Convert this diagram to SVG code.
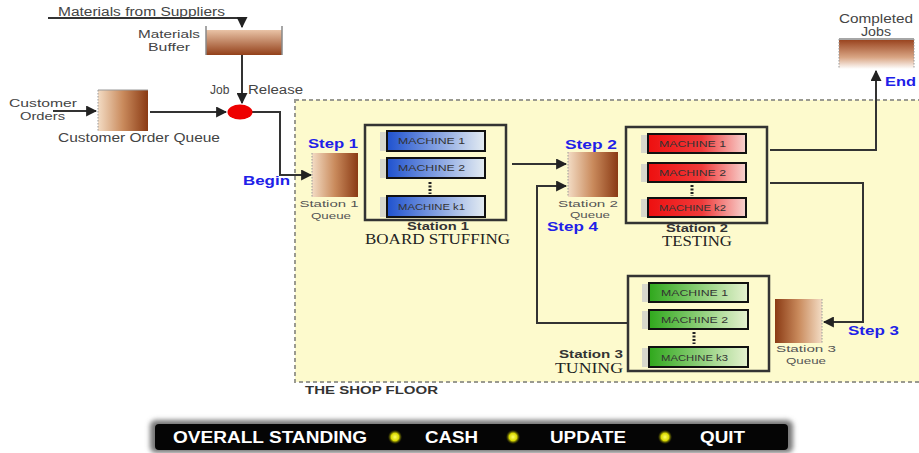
<svg xmlns="http://www.w3.org/2000/svg" width="919" height="453" viewBox="0 0 919 453">
<defs>
<linearGradient id="qLR" x1="0" y1="0" x2="1" y2="0"><stop offset="0" stop-color="#f3dcc4"/><stop offset="0.5" stop-color="#c98a5c"/><stop offset="1" stop-color="#8a3a14"/></linearGradient>
<linearGradient id="qRL" x1="1" y1="0" x2="0" y2="0"><stop offset="0" stop-color="#f3dcc4"/><stop offset="0.5" stop-color="#c98a5c"/><stop offset="1" stop-color="#8a3a14"/></linearGradient>
<linearGradient id="bufV" x1="0" y1="0" x2="0" y2="1"><stop offset="0" stop-color="#e9c3a6"/><stop offset="1" stop-color="#93401a"/></linearGradient>
<linearGradient id="jobV" x1="0" y1="0" x2="0" y2="1"><stop offset="0" stop-color="#9a4520"/><stop offset="0.6" stop-color="#d9a584"/><stop offset="1" stop-color="#ffffff"/></linearGradient>
<linearGradient id="blue" x1="0" y1="0" x2="1" y2="0"><stop offset="0" stop-color="#1f52cf"/><stop offset="1" stop-color="#e4ecf2"/></linearGradient>
<linearGradient id="red" x1="0" y1="0" x2="1" y2="0"><stop offset="0" stop-color="#ee0f0f"/><stop offset="0.55" stop-color="#f03a3a"/><stop offset="1" stop-color="#f7d4d0"/></linearGradient>
<linearGradient id="green" x1="0" y1="0" x2="1" y2="0"><stop offset="0" stop-color="#2fa81c"/><stop offset="1" stop-color="#e6f2d0"/></linearGradient>
<radialGradient id="glow"><stop offset="0" stop-color="#ffff66"/><stop offset="0.55" stop-color="#d8d800"/><stop offset="1" stop-color="#303000" stop-opacity="0.2"/></radialGradient>
<filter id="blur" x="-10%" y="-50%" width="120%" height="200%"><feGaussianBlur stdDeviation="2.5"/></filter>
<marker id="ah" viewBox="0 0 10 10" refX="9" refY="5" markerWidth="5.5" markerHeight="5.5" orient="auto"><path d="M0,0 L10,5 L0,10 z" fill="#222"/></marker>
<style>
.t{font-family:"Liberation Sans",Arial,sans-serif;fill:#444;font-size:12px}
.t2{font-family:"Liberation Sans",Arial,sans-serif;fill:#444;font-size:11px}
.s{font-family:"Liberation Sans",Arial,sans-serif;fill:#555;font-size:9.5px}
.b{font-family:"Liberation Sans",Arial,sans-serif;font-weight:bold;fill:#333;font-size:11px}
.step{font-family:"Liberation Sans",Arial,sans-serif;font-weight:bold;fill:#2020e8;font-size:12px}
.serif{font-family:"Liberation Serif","Times New Roman",serif;fill:#222;font-size:14px}
.mlab{font-family:"Liberation Sans",Arial,sans-serif;fill:#333;font-size:9px}
.arr{fill:none;stroke:#333;stroke-width:2;marker-end:url(#ah)}
.stbox{fill:none;stroke:#333;stroke-width:2.5}
.mbox{stroke:#111;stroke-width:2}
.shadow{fill:#d8d8cc}
.dots{stroke:#222;stroke-width:3;stroke-dasharray:2 1.5}
.qside{stroke:#999;stroke-width:1;stroke-dasharray:1.5 1.5}
.btn{font-family:"Liberation Sans",Arial,sans-serif;font-weight:bold;fill:#fff;font-size:16px}
</style>
</defs>
<rect width="919" height="453" fill="#ffffff"/>

<g id="shop-floor">
<rect x="295" y="100" width="640" height="282" fill="#fdfacd" stroke="#9a9a90" stroke-width="2" stroke-dasharray="4 3"/>
<text class="b" x="305" y="394" font-size="12" textLength="133" lengthAdjust="spacingAndGlyphs">THE SHOP FLOOR</text>
</g>

<g id="connectors">
<polyline class="arr" points="48,18 242,18 242,27"/>
<line class="arr" x1="242" y1="55" x2="242" y2="103"/>
<line class="arr" x1="53" y1="111" x2="96" y2="111"/>
<line class="arr" x1="150" y1="112" x2="226" y2="112"/>
<polyline class="arr" points="252,112 280,112 280,175 311,175"/>
<line class="arr" x1="512" y1="164" x2="566" y2="164"/>
<polyline class="arr" points="628,323 537,323 537,186 566,186"/>
<polyline class="arr" points="770,150 876,150 876,71"/>
<polyline class="arr" points="770,183 863,183 863,322 824,322"/>
</g>

<g id="materials-from-suppliers">
<text class="t" x="58" y="16" textLength="167" lengthAdjust="spacingAndGlyphs">Materials from Suppliers</text>
</g>

<g id="materials-buffer">
<rect x="206" y="30" width="76" height="25" fill="url(#bufV)"/>
<line x1="206" y1="26" x2="206" y2="55" stroke="#888" stroke-width="1.5"/>
<line x1="282" y1="26" x2="282" y2="55" stroke="#888" stroke-width="1.5"/>
<text class="t2" x="169" y="38" text-anchor="middle" textLength="62" lengthAdjust="spacingAndGlyphs">Materials</text>
<text class="t2" x="169" y="51" text-anchor="middle" textLength="42" lengthAdjust="spacingAndGlyphs">Buffer</text>
</g>

<g id="job-release">
<ellipse cx="240" cy="112" rx="12.5" ry="7.5" fill="#ee0000"/>
<text class="t" x="210" y="94">Job</text>
<text class="t" x="248" y="94" textLength="55" lengthAdjust="spacingAndGlyphs">Release</text>
</g>

<g id="customer-orders">
<text class="t2" x="9" y="107" textLength="68" lengthAdjust="spacingAndGlyphs">Customer</text>
<text class="t2" x="20" y="120" textLength="45" lengthAdjust="spacingAndGlyphs">Orders</text>
</g>

<g id="customer-order-queue">
<rect x="98" y="90" width="50" height="41" fill="url(#qLR)"/>
<line x1="98" y1="90" x2="148" y2="90" stroke="#999" stroke-width="1"/>
<line class="qside" x1="98" y1="90" x2="98" y2="131"/>
<text class="t" x="58" y="142" textLength="162" lengthAdjust="spacingAndGlyphs">Customer Order Queue</text>
</g>

<g id="station1-queue">
<rect x="312" y="153" width="46" height="44" fill="url(#qLR)"/>
<line class="qside" x1="312" y1="153" x2="312" y2="197"/>
<text class="step" x="308" y="148" textLength="50" lengthAdjust="spacingAndGlyphs">Step 1</text>
<text class="step" x="243" y="185" textLength="47" lengthAdjust="spacingAndGlyphs">Begin</text>
<text class="s" x="329" y="207" text-anchor="middle" textLength="59" lengthAdjust="spacingAndGlyphs">Station 1</text>
<text class="s" x="331" y="218.5" text-anchor="middle" textLength="40" lengthAdjust="spacingAndGlyphs">Queue</text>
</g>

<g id="station1">
<rect class="stbox" x="365" y="125" width="141" height="95"/>
<rect class="shadow" x="380" y="132" width="8" height="19"/>
<rect class="mbox" x="387" y="131" width="98" height="20" fill="url(#blue)"/>
<text class="mlab" x="398" y="144" textLength="67" lengthAdjust="spacingAndGlyphs">MACHINE 1</text>
<rect class="shadow" x="380" y="159" width="8" height="19"/>
<rect class="mbox" x="387" y="158" width="98" height="20" fill="url(#blue)"/>
<text class="mlab" x="398" y="171" textLength="67" lengthAdjust="spacingAndGlyphs">MACHINE 2</text>
<line class="dots" x1="430" y1="182" x2="430" y2="194"/>
<rect class="shadow" x="380" y="197" width="8" height="20"/>
<rect class="mbox" x="387" y="196" width="98" height="21" fill="url(#blue)"/>
<text class="mlab" x="398" y="210" textLength="67" lengthAdjust="spacingAndGlyphs">MACHINE k1</text>
<text class="b" x="438" y="230" text-anchor="middle" textLength="62" lengthAdjust="spacingAndGlyphs">Station 1</text>
<text class="serif" x="365" y="244" textLength="145" lengthAdjust="spacingAndGlyphs">BOARD STUFFING</text>
</g>

<g id="station2-queue">
<rect x="568" y="152" width="50" height="45" fill="url(#qLR)"/>
<line class="qside" x1="568" y1="152" x2="568" y2="197"/>
<text class="step" x="565" y="149" textLength="52" lengthAdjust="spacingAndGlyphs">Step 2</text>
<text class="s" x="588" y="207" text-anchor="middle" textLength="60" lengthAdjust="spacingAndGlyphs">Station 2</text>
<text class="s" x="590" y="218" text-anchor="middle" textLength="40" lengthAdjust="spacingAndGlyphs">Queue</text>
<text class="step" x="547" y="231" font-size="11" textLength="51" lengthAdjust="spacingAndGlyphs">Step 4</text>
</g>

<g id="station2">
<rect class="stbox" x="626" y="127" width="141" height="96"/>
<rect class="shadow" x="641" y="135" width="8" height="18"/>
<rect class="mbox" x="648" y="134" width="98" height="19" fill="url(#red)"/>
<text class="mlab" x="659" y="147" textLength="67" lengthAdjust="spacingAndGlyphs">MACHINE 1</text>
<rect class="shadow" x="641" y="164" width="8" height="18"/>
<rect class="mbox" x="648" y="163" width="98" height="19" fill="url(#red)"/>
<text class="mlab" x="659" y="176" textLength="67" lengthAdjust="spacingAndGlyphs">MACHINE 2</text>
<line class="dots" x1="692" y1="185" x2="692" y2="196"/>
<rect class="shadow" x="641" y="199" width="8" height="18"/>
<rect class="mbox" x="648" y="198" width="98" height="19" fill="url(#red)"/>
<text class="mlab" x="659" y="211" textLength="67" lengthAdjust="spacingAndGlyphs">MACHINE k2</text>
<text class="b" x="697" y="232" text-anchor="middle" textLength="62" lengthAdjust="spacingAndGlyphs">Station 2</text>
<text class="serif" x="662" y="246" textLength="70" lengthAdjust="spacingAndGlyphs">TESTING</text>
</g>

<g id="completed-jobs">
<rect x="839" y="40" width="75" height="29" fill="url(#jobV)"/>
<line x1="839" y1="39" x2="914" y2="39" stroke="#888" stroke-width="1.5"/>
<line class="qside" x1="839" y1="39" x2="839" y2="69"/>
<line class="qside" x1="914" y1="39" x2="914" y2="69"/>
<text class="t" x="876" y="23" text-anchor="middle" font-size="10" textLength="74" lengthAdjust="spacingAndGlyphs">Completed</text>
<text class="t" x="876" y="36" text-anchor="middle" font-size="10" textLength="30" lengthAdjust="spacingAndGlyphs">Jobs</text>
<text class="step" x="885" y="86" textLength="31" lengthAdjust="spacingAndGlyphs">End</text>
</g>

<g id="station3-queue">
<rect x="775" y="299" width="47" height="44" fill="url(#qRL)"/>
<line class="qside" x1="822" y1="299" x2="822" y2="343"/>
<text class="s" x="806" y="352" text-anchor="middle" textLength="60" lengthAdjust="spacingAndGlyphs">Station 3</text>
<text class="s" x="806" y="363.5" text-anchor="middle" textLength="40" lengthAdjust="spacingAndGlyphs">Queue</text>
<text class="step" x="848" y="335" textLength="51" lengthAdjust="spacingAndGlyphs">Step 3</text>
</g>

<g id="station3">
<rect class="stbox" x="628" y="276" width="141" height="95"/>
<rect class="shadow" x="642" y="284" width="8" height="18"/>
<rect class="mbox" x="649" y="283" width="99" height="19" fill="url(#green)"/>
<text class="mlab" x="661" y="296" textLength="67" lengthAdjust="spacingAndGlyphs">MACHINE 1</text>
<rect class="shadow" x="642" y="311" width="8" height="18"/>
<rect class="mbox" x="649" y="310" width="99" height="19" fill="url(#green)"/>
<text class="mlab" x="661" y="323" textLength="67" lengthAdjust="spacingAndGlyphs">MACHINE 2</text>
<line class="dots" x1="694" y1="332" x2="694" y2="344"/>
<rect class="shadow" x="642" y="348" width="8" height="19"/>
<rect class="mbox" x="649" y="347" width="99" height="20" fill="url(#green)"/>
<text class="mlab" x="661" y="361" textLength="67" lengthAdjust="spacingAndGlyphs">MACHINE k3</text>
<text class="b" x="623" y="358" text-anchor="end" textLength="64" lengthAdjust="spacingAndGlyphs">Station 3</text>
<text class="serif" x="623" y="373" text-anchor="end" textLength="68" lengthAdjust="spacingAndGlyphs">TUNING</text>
</g>

<g id="menu-bar">
<rect x="150" y="420" width="643" height="33" rx="6" fill="#777" filter="url(#blur)"/>
<rect x="155" y="424" width="633" height="26" rx="4" fill="#050505"/>
<text class="btn" x="173" y="443" textLength="194" lengthAdjust="spacingAndGlyphs">OVERALL STANDING</text>
<circle cx="395" cy="437" r="7" fill="url(#glow)"/>
<text class="btn" x="425" y="443" textLength="53" lengthAdjust="spacingAndGlyphs">CASH</text>
<circle cx="513" cy="437" r="7" fill="url(#glow)"/>
<text class="btn" x="550" y="443" textLength="76" lengthAdjust="spacingAndGlyphs">UPDATE</text>
<circle cx="665" cy="437" r="7" fill="url(#glow)"/>
<text class="btn" x="700" y="443" textLength="45" lengthAdjust="spacingAndGlyphs">QUIT</text>
</g>
</svg>
